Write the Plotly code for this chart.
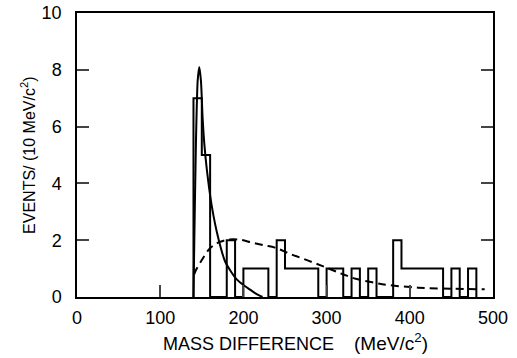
import plotly.graph_objects as go

# Histogram: bin left edges (10 MeV/c^2 bins) and counts
bin_edges = [140, 150, 160, 170, 180, 190, 200, 210, 220, 230, 240, 250, 260, 270,
             280, 290, 300, 310, 320, 330, 340, 350, 360, 370, 380, 390, 400, 410,
             420, 430, 440, 450, 460, 470, 480]
counts = [7, 5, 0, 0, 2, 0, 1, 1, 1, 0, 2, 1, 1, 1,
          1, 0, 1, 1, 0, 1, 0, 1, 0, 0, 2, 1, 1, 1,
          1, 1, 0, 1, 0, 1]

# Solid curve (narrow peak fit)
peak_x = [140, 141, 143, 145, 147, 149, 151, 153, 156, 162, 170, 178, 185, 192, 200, 208, 215, 223]
peak_y = [0.0, 2.0, 5.5, 7.6, 8.1, 7.6, 6.3, 5.4, 4.5, 3.2, 2.05, 1.25, 0.9, 0.62, 0.42, 0.26, 0.12, 0.0]

# Dashed curve (background)
bg_x = [141, 143, 150, 160, 170, 182, 195, 210, 225, 238, 255, 278, 300, 318, 335, 358, 375, 410, 450, 490]
bg_y = [0.8, 0.95, 1.3, 1.72, 1.92, 2.02, 2.02, 1.92, 1.82, 1.74, 1.53, 1.28, 1.03, 0.82, 0.64, 0.5, 0.42, 0.33, 0.29, 0.27]

x_ticks = [0, 100, 200, 300, 400, 500]
y_ticks = [0, 2, 4, 6, 8, 10]

x_title = ("MASS DIFFERENCE\u00a0\u00a0\u00a0\u00a0"
           "<span style='font-size:19px'>(MeV/c<sup>2</sup>)</span>")
y_title = "EVENTS/ (10 MeV/c<sup>2</sup>)"

# Step outline of histogram built from the arrays
hx = [bin_edges[0]] + bin_edges
hy = [0] + counts + [0]

FONT = "Liberation Sans, Arial, sans-serif"

fig = go.Figure()
fig.add_trace(go.Scatter(x=hx, y=hy, mode="lines", line=dict(shape="hv", color="black", width=2),
                         hoverinfo="skip", showlegend=False))
fig.add_trace(go.Scatter(x=peak_x, y=peak_y, mode="lines",
                         line=dict(shape="spline", smoothing=0.6, color="black", width=2),
                         showlegend=False))
fig.add_trace(go.Scatter(x=bg_x, y=bg_y, mode="lines",
                         line=dict(shape="spline", color="black", width=2, dash="8px,5px"),
                         showlegend=False))

fig.update_layout(
    width=517, height=358,
    margin=dict(l=77, r=24, t=13, b=61),
    paper_bgcolor="white", plot_bgcolor="white",
    font=dict(family=FONT, color="black"),
    xaxis=dict(range=[0, 500], tickvals=x_ticks, ticks="inside", ticklen=12, tickwidth=1.5,
               showline=True, linecolor="black", linewidth=1.5, mirror=True, automargin=False,
               showgrid=False, zeroline=False, tickfont=dict(size=18), ticklabelstandoff=4),
    yaxis=dict(range=[0, 10], tickvals=y_ticks, ticks="inside", ticklen=12, tickwidth=1.5,
               showline=True, linecolor="black", linewidth=1.5, mirror="ticks", automargin=False,
               showgrid=False, zeroline=False, tickfont=dict(size=18), ticklabelstandoff=10),
    annotations=[
        dict(text=x_title, xref="paper", yref="paper", x=0.526, y=-0.16,
             xanchor="center", yanchor="middle", showarrow=False, font=dict(size=18)),
        dict(text=y_title, xref="paper", yref="paper", x=-0.118, y=0.5, textangle=-90,
             xanchor="center", yanchor="middle", showarrow=False, font=dict(size=16)),
    ],
)

fig.write_html("out.html")
